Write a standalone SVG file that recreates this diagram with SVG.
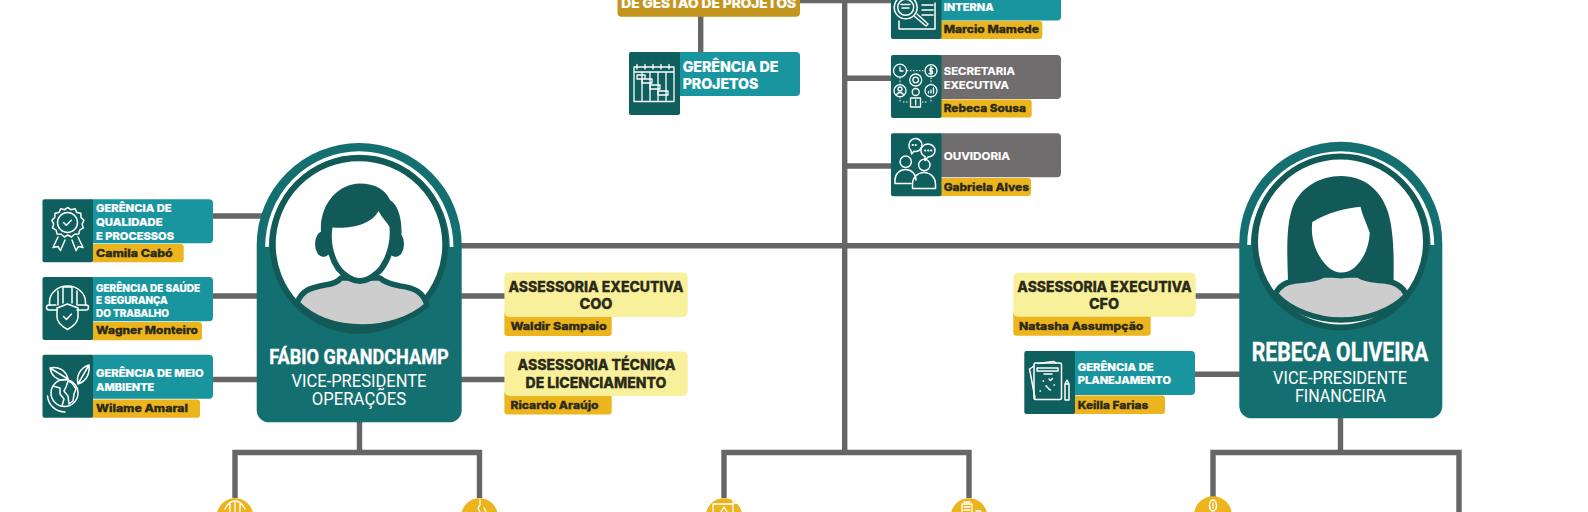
<svg xmlns="http://www.w3.org/2000/svg" width="1588" height="512" viewBox="0 0 1588 512">
<style>
text{font-family:"Inter","Liberation Sans",sans-serif;font-weight:800}
.w{fill:#fff;stroke:#fff;stroke-width:.2}
.k{fill:#2b2a18;stroke:#2b2a18;stroke-width:.3}
.s10{font-size:10.4px}
.s11{font-size:11px}
.s13{font-size:13.6px}
.s14{font-size:14.4px}
.c{text-anchor:middle}
.cond{font-family:"Roboto","Liberation Sans",sans-serif}
.b{font-weight:700;stroke-width:.35}
.r{font-weight:400;stroke:none}
.dark{fill:#0f5f5e}
.teal{fill:#18959e}
.gray{fill:#6f6d6e}
.yel{fill:#ecb41d}
.pale{fill:#f8f09b}
.gold{fill:#c2961e}
.card{fill:#147070}
.ring{fill:#fff;stroke:#125a58;stroke-width:6}
.arc{fill:none;stroke:#fff;stroke-width:3.6}
.hair{fill:#125a58}
.face{fill:#fff;stroke:#125a58;stroke-width:12;paint-order:stroke;stroke-linejoin:round}
.body{fill:#cdcdcd;stroke:#125a58;stroke-width:5.5;stroke-linejoin:round}
.ic{fill:none;stroke:#fff;stroke-width:1.5;stroke-linejoin:round;stroke-linecap:round}
.ic2{fill:none;stroke:#fff;stroke-width:1.3;stroke-linecap:round;stroke-linejoin:round}
.dot{fill:none;stroke:#fff;stroke-width:1;stroke-dasharray:1.5 1.5}
.lines{fill:none;stroke:#666;stroke-width:5.4}
</style>
<g id="connectors" class="lines">
<path d="M844.7 0V452.5"/>
<path d="M800 0.5H891"/>
<path d="M700.7 16V53"/>
<path d="M845 78.3H891"/>
<path d="M845 166H891"/>
<path d="M458 245.7H1242"/>
<path d="M213 216H262"/>
<path d="M213 296H260"/>
<path d="M213 379.5H260"/>
<path d="M459 296H505"/>
<path d="M459 379.5H505"/>
<path d="M1195 296H1242"/>
<path d="M1195 374.3H1242"/>
<path d="M359.5 421V452.5"/>
<path d="M235 498V452.5H479.5V498"/>
<path d="M724 498V452.5H969V498"/>
<path d="M1340.5 417V452.5"/>
<path d="M1213 498V452.5H1459V512"/>
</g>

<g id="gestao-projetos">
<rect class="gold" x="617.5" y="-20" width="182.500" height="36.700" rx="4"/>
<text class="w s13" x="621.3" y="8.3" textLength="174.700" lengthAdjust="spacingAndGlyphs">DE GESTÃO DE PROJETOS</text>
</g>

<g id="gerencia-projetos">
<rect class="teal" x="675" y="52" width="125" height="44" rx="4"/>
<rect class="dark" x="629" y="52" width="51" height="63" rx="2"/>
<text class="w s14" x="682.7" y="71.7" textLength="95.600" lengthAdjust="spacingAndGlyphs">GERÊNCIA DE</text>
<text class="w s14" x="682.7" y="89.300" textLength="75.600" lengthAdjust="spacingAndGlyphs">PROJETOS</text>
<g class="ic2">
<path d="M634 67H674V101.500H634ZM634 72H674M642 72V101.500M650 72V101.500M658 72V101.500M666 72V101.500"/>
<path d="M637 64.500V69M645 64.500V69M653 64.500V69M661 64.500V69M669 64.500V69"/>
<path d="M637 75H645V79H637ZM642 79H652V83H642ZM650 85H660V89H650ZM658 91H668V95H658Z"/>
</g>
</g>

<g id="auditoria-interna">
<rect class="teal" x="936" y="-24" width="125" height="44.500" rx="4"/>
<rect class="yel" x="938" y="21" width="104.300" height="18" rx="3"/>
<rect class="dark" x="891" y="-24" width="50.500" height="63" rx="2"/>
<text class="w s11" x="943.7" y="10.700" textLength="50" lengthAdjust="spacingAndGlyphs">INTERNA</text>
<text class="k s11" x="943.7" y="33.300" textLength="95.300" lengthAdjust="spacingAndGlyphs">Marcio Mamede</text>
<g class="ic">
<circle cx="905.7" cy="7.300" r="11.500"/>
<circle cx="905.7" cy="7.300" r="8"/>
<path d="M901 4.500H910M902 8H909M914 16L926 26L928 24L917 14M922 5H933M922 10H933M922 15H933M935 3V29H899V21"/>
</g>
</g>

<g id="secretaria-executiva">
<rect class="gray" x="936" y="55" width="125" height="44" rx="4"/>
<rect class="yel" x="938" y="99.5" width="93.700" height="18" rx="3"/>
<rect class="dark" x="891" y="55" width="50.500" height="63" rx="2"/>
<text class="w s11" x="943.7" y="75" textLength="71.300" lengthAdjust="spacingAndGlyphs" style="font-weight:700">SECRETARIA</text>
<text class="w s11" x="943.7" y="89.300" textLength="65.300" lengthAdjust="spacingAndGlyphs" style="font-weight:700">EXECUTIVA</text>
<text class="k s11" x="943.7" y="112" textLength="82.300" lengthAdjust="spacingAndGlyphs">Rebeca Sousa</text>
<g class="ic2">
<circle cx="900" cy="70.7" r="6.500"/><path d="M900 67V71H903"/>
<circle cx="931" cy="70.7" r="6"/><path d="M933 68.500H930V71H932.500V73.500H929M931 66.500V75"/>
<circle cx="915.7" cy="80" r="6"/><circle cx="915.700" cy="80" r="2.800"/>
<circle cx="900" cy="90.7" r="6"/><circle cx="900" cy="89" r="2"/><path d="M896.500 94.500Q900 90.500 903.500 94.500"/>
<circle cx="931" cy="90.7" r="6"/><path d="M928.500 93V91.500M931 93V90M933.500 93V88"/>
<circle cx="915.7" cy="92" r="3.500"/><path d="M910.500 107V98H920.500V107ZM915.700 100V105"/>
</g>
<path class="dot" d="M907 70.700H924M900 77.500V84M931 77.500V84M903 102H909M922 102H928M900 97V102M931 97V102"/>
</g>

<g id="ouvidoria">
<rect class="gray" x="936" y="133.3" width="125" height="44" rx="4"/>
<rect class="yel" x="938" y="178" width="93" height="18" rx="3"/>
<rect class="dark" x="891" y="133.3" width="50.500" height="63" rx="2"/>
<text class="w s11" x="943.7" y="160" textLength="66.300" lengthAdjust="spacingAndGlyphs" style="font-weight:700">OUVIDORIA</text>
<text class="k s11" x="943.7" y="190.700" textLength="85.300" lengthAdjust="spacingAndGlyphs">Gabriela Alves</text>
<g class="ic">
<path d="M909 145a6.500 6.500 0 1 1 5 6.300l-2.500 2.700l-.5-3.500a6.500 6.500 0 0 1 -2 -5.500Z"/>
<path d="M921 150.500a7 6.500 0 1 1 7 6.500l-3 3.500v-4a6.500 6.500 0 0 1 -4 -6Z"/>
<circle cx="905.7" cy="161.700" r="5.700"/>
<circle cx="924.3" cy="165" r="5.700"/>
<path d="M895 183.500V180a10 10 0 0 1 21 0M895 183.500H911"/>
<path d="M912.500 188.500V184a11.500 11.500 0 0 1 23 0V188.500Z"/>
<path d="M912.500 145H913M915.500 145H916M925 150.500H925.500M928 150.500H928.500M931 150.500H931.500" stroke-width="1.800"/>
</g>
</g>

<g id="gerencia-qualidade">
<rect class="teal" x="88" y="199.3" width="125" height="44" rx="4"/>
<rect class="yel" x="90" y="244" width="93.700" height="18.300" rx="3"/>
<rect class="dark" x="42.5" y="199.3" width="50.500" height="63" rx="2"/>
<text class="w s11" x="96" y="211.7" textLength="75.700" lengthAdjust="spacingAndGlyphs">GERÊNCIA DE</text>
<text class="w s11" x="96" y="226" textLength="66.700" lengthAdjust="spacingAndGlyphs">QUALIDADE</text>
<text class="w s11" x="96" y="239.7" textLength="78" lengthAdjust="spacingAndGlyphs">E PROCESSOS</text>
<text class="k s11" x="96" y="256.7" textLength="76.700" lengthAdjust="spacingAndGlyphs">Camila Cabó</text>
<g class="ic">
<path d="M67.500 207.500l3.500 2.200l4-1l1.800 3.700l4 .9l.2 4.100l2.900 2.900l-1.800 3.700l1.200 3.900l-3.600 2.200l-1 4l-4.100 .2l-3.100 2.700l-3.600 -2l-3.600 2l-3.100 -2.700l-4.100 -.2l-1 -4l-3.600 -2.200l1.200 -3.900l-1.800 -3.700l2.900 -2.900l.2 -4.100l4 -.9l1.800 -3.700l4 1Z"/>
<circle cx="67.5" cy="222.500" r="10"/>
<path d="M63.500 222.500l2.800 2.800l5 -5M58 237L53 247.500L58 246.500L60.500 250.500L65 240M72 240L76 250.500L78.500 246.500L83 247.500L78 237"/>
</g>
</g>

<g id="gerencia-saude">
<rect class="teal" x="88" y="277" width="125" height="44.300" rx="4"/>
<rect class="yel" x="90" y="322" width="112" height="18.300" rx="3"/>
<rect class="dark" x="42.5" y="277" width="50.500" height="63" rx="2"/>
<text class="w s10" x="96" y="291.7" textLength="104" lengthAdjust="spacingAndGlyphs">GERÊNCIA DE SAÚDE</text>
<text class="w s10" x="96" y="304" textLength="71.700" lengthAdjust="spacingAndGlyphs">E SEGURANÇA</text>
<text class="w s10" x="96" y="316.7" textLength="73" lengthAdjust="spacingAndGlyphs">DO TRABALHO</text>
<text class="k s11" x="96" y="334" textLength="102" lengthAdjust="spacingAndGlyphs">Wagner Monteiro</text>
<g class="ic">
<path d="M49.500 305V302a18 16 0 0 1 36 0V305"/>
<path d="M58 305V291M63 303V287H72V303M77 305V291"/>
<path d="M56 305H49A2.500 2.500 0 0 0 49 310H57M78 305H86A2.500 2.500 0 0 1 86 310H77"/>
<path d="M67.500 304L78 308V317C78 323 72 327 67.500 329.500C63 327 57 323 57 317V308Z"/>
<path d="M63.500 316.500l3 3l5 -5.500"/>
</g>
</g>

<g id="gerencia-meio-ambiente">
<rect class="teal" x="88" y="354.7" width="125" height="44" rx="4"/>
<rect class="yel" x="90" y="399.5" width="110" height="18.300" rx="3"/>
<rect class="dark" x="42.5" y="354.7" width="50.500" height="63" rx="2"/>
<text class="w s11" x="96" y="377.3" textLength="107.700" lengthAdjust="spacingAndGlyphs">GERÊNCIA DE MEIO</text>
<text class="w s11" x="96" y="390.7" textLength="58.300" lengthAdjust="spacingAndGlyphs">AMBIENTE</text>
<text class="k s11" x="96" y="412.3" textLength="92" lengthAdjust="spacingAndGlyphs">Wilame Amaral</text>
<g class="ic">
<circle cx="64.5" cy="393" r="13.500"/>
<path d="M47.500 396A17.500 17.500 0 0 0 65 412"/>
<path d="M53 386L60 388L60 394L64 399L62 406M68 381L72 383L76 389L74 394L73 401L69 404L68 396L64 391L66 387Z"/>
<path d="M50 368C58 366 66 370 68 379C60 382 52 378 50 368ZM50 368L68 379"/>
<path d="M89 365C90 373 87 381 78 384C76 376 80 368 89 365ZM78 384L89 365"/>
</g>
</g>

<g id="assessoria-coo">
<rect class="yel" x="504.4" y="310" width="107.300" height="26" rx="3"/>
<rect class="pale" x="504.4" y="272.400" width="183.300" height="44.600" rx="5"/>
<text class="k s14" x="508.4" y="291.700" textLength="175.200" lengthAdjust="spacingAndGlyphs">ASSESSORIA EXECUTIVA</text>
<text class="k s14 c" x="596" y="309.3">COO</text>
<text class="k s11" x="510.4" y="330" textLength="96.300" lengthAdjust="spacingAndGlyphs">Waldir Sampaio</text>
</g>

<g id="assessoria-licenciamento">
<rect class="yel" x="504.4" y="390" width="107.300" height="24.500" rx="3"/>
<rect class="pale" x="504.4" y="351.400" width="183.300" height="44.600" rx="5"/>
<text class="k s14" x="517.5" y="369.700" textLength="158" lengthAdjust="spacingAndGlyphs">ASSESSORIA TÉCNICA</text>
<text class="k s14" x="525.6" y="387.500" textLength="140.800" lengthAdjust="spacingAndGlyphs">DE LICENCIAMENTO</text>
<text class="k s11" x="510.4" y="409" textLength="88.200" lengthAdjust="spacingAndGlyphs">Ricardo Araújo</text>
</g>

<g id="assessoria-cfo">
<rect class="yel" x="1013.3" y="310" width="137.400" height="25.700" rx="3"/>
<rect class="pale" x="1013.3" y="272.700" width="182.400" height="44" rx="5"/>
<text class="k s14" x="1017.3" y="291.700" textLength="174.400" lengthAdjust="spacingAndGlyphs">ASSESSORIA EXECUTIVA</text>
<text class="k s14 c" x="1104" y="309.3">CFO</text>
<text class="k s11" x="1019" y="330" textLength="124.300" lengthAdjust="spacingAndGlyphs">Natasha Assumpção</text>
</g>

<g id="gerencia-planejamento">
<rect class="teal" x="1070" y="351" width="125" height="44" rx="4"/>
<rect class="yel" x="1072" y="395.5" width="93" height="18.500" rx="3"/>
<rect class="dark" x="1024.3" y="351" width="50.700" height="63" rx="2"/>
<text class="w s11" x="1077.7" y="370.700" textLength="76" lengthAdjust="spacingAndGlyphs">GERÊNCIA DE</text>
<text class="w s11" x="1077.7" y="384.300" textLength="93.300" lengthAdjust="spacingAndGlyphs">PLANEJAMENTO</text>
<text class="k s11" x="1077.7" y="408.700" textLength="70.600" lengthAdjust="spacingAndGlyphs">Keilla Farias</text>
<g class="ic">
<rect x="1034" y="363" width="27.500" height="36.500" rx="1.500"/>
<path d="M1034 366L1029.500 369L1035 398M1038 363.500L1054 361.500L1056 363M1037 368H1058V371H1037ZM1044 374H1052"/>
<path d="M1049 379l1.500 1.500l2 -2M1040 391h.5M1046 386h.5M1043 381h.5M1050 390h.5M1054 385h.5M1046 386L1050 390" stroke-width="1.500"/>
<path d="M1065 384H1069V400H1065ZM1065 384L1067 380L1069 384"/>
</g>
</g>

<g id="fabio-grandchamp">
<path class="card" d="M256.7 245A102.500 102 0 0 1 461.700 245V410A12.300 12.300 0 0 1 449.400 422.300H269A12.300 12.300 0 0 1 256.700 410Z"/>
<path class="arc" d="M267 247A92.300 94 0 0 1 451.600 247"/>
<circle class="ring" cx="359" cy="244.5" r="86.300"/>
<path class="hair" d="M321 232C319 205 338 183.500 360 183.500C375 183.500 386 190 390 200C398 205 402 218 401.500 234L385 262H335Z"/>
<ellipse class="hair" cx="323.5" cy="244" rx="8.500" ry="13"/>
<ellipse class="hair" cx="395.5" cy="244" rx="8.500" ry="13"/>
<path class="body" d="M297 303C302 290 310 288 325 285C333 284 338 282 341 278H380C384 282 390 284 400 286C415 288 423 292 427 305C410 320 385 327 362 327C338 327 314 320 297 303Z"/>
<path class="face" d="M332.500 227.500C352 229 372 224 378.500 211C383 219 387 222 389.500 227C391 242 386 258 378 268C372 274 366 278 360 278C353 278 346 273 341 267C334 257 330 242 332.500 227.500Z"/>
<text class="w b cond c" x="359" y="363.5" font-size="21" textLength="179.400" lengthAdjust="spacingAndGlyphs">FÁBIO GRANDCHAMP</text>
<text class="w r cond c" x="359" y="386.7" font-size="18.500" textLength="135" lengthAdjust="spacingAndGlyphs">VICE-PRESIDENTE</text>
<text class="w r cond c" x="359" y="405.3" font-size="18.500" textLength="94.300" lengthAdjust="spacingAndGlyphs">OPERAÇÕES</text>
</g>

<g id="rebeca-oliveira">
<path class="card" d="M1239.3 243A101.500 101.300 0 0 1 1442.300 243V406A12.300 12.300 0 0 1 1430 418.300H1251.600A12.300 12.300 0 0 1 1239.300 406Z"/>
<path class="arc" d="M1249 245A91.700 92 0 0 1 1432.400 245"/>
<circle class="ring" cx="1340.5" cy="242" r="85.500"/>
<path class="hair" d="M1288 280C1287 250 1286 225 1293 206C1301 187 1320 176 1341 176C1364 176 1381 190 1388 212C1394 232 1394 258 1393.500 282L1340 295Z"/>
<path class="body" d="M1275.500 294C1279 286 1285 282 1295 281C1308 280 1318 278 1323.500 275H1358.500C1363 279 1375 280 1385 281C1397 282 1403 287 1406.500 295C1392 311 1366 320 1341 320C1316 320 1290 310 1275.500 294Z"/>
<path class="face" d="M1312.300 222C1327 213 1345 208 1360.500 206.700C1362 214 1366 222 1369.800 233C1369 248 1363 260 1354 268C1350 271 1346 272.500 1341 272.500C1336 272.500 1331 270 1327 266C1317 256 1310 240 1312.300 222Z"/>
<text class="w b cond c" x="1340" y="360.7" font-size="26" textLength="176.600" lengthAdjust="spacingAndGlyphs">REBECA OLIVEIRA</text>
<text class="w r cond c" x="1340" y="384" font-size="18.500" textLength="134" lengthAdjust="spacingAndGlyphs">VICE-PRESIDENTE</text>
<text class="w r cond c" x="1340.5" y="402" font-size="18.500" textLength="91" lengthAdjust="spacingAndGlyphs">FINANCEIRA</text>
</g>

<g id="circulo-1">
<circle class="yel" cx="235" cy="516.5" r="18.300"/>
<path class="ic2" d="M225 509C228 503 232 501 235 501C238 501 242 503 245 509M235 501V512M230 503V512M240 503V512"/>
</g>
<g id="circulo-2">
<circle class="yel" cx="479.5" cy="516.5" r="18.300"/>
<path class="ic2" d="M480 500V505L478 508L480 512M484 508L486 512" stroke-width="1.500"/>
</g>
<g id="circulo-3">
<circle class="yel" cx="724" cy="516.5" r="18.300"/>
<path class="ic2" d="M713 504H733V512M713 504V512M721 512L724 507L727 512M733 500H737V503H733Z"/>
</g>
<g id="circulo-4">
<circle class="yel" cx="969" cy="516.5" r="18.300"/>
<path class="ic2" d="M962 512V504H972V512M964 502H970M964 507H970M964 510H970M976 511H981"/>
</g>
<g id="circulo-5">
<circle class="yel" cx="1213" cy="515" r="18.800"/>
<ellipse class="ic" cx="1213" cy="505.500" rx="3.500" ry="5.500"/>
<path class="ic2" d="M1213 503V508"/>
</g>
</svg>
